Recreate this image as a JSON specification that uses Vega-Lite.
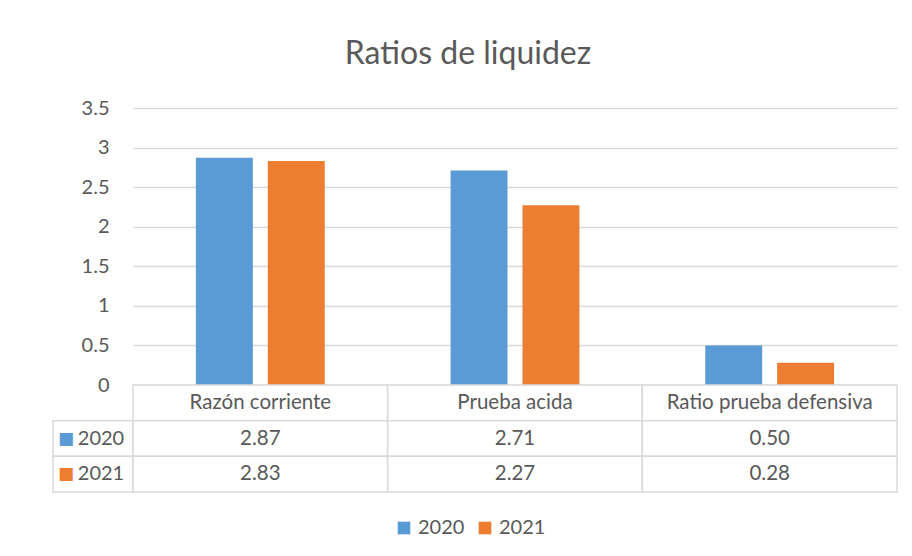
{
  "$schema": "https://vega.github.io/schema/vega-lite/v6.json",
  "padding": {"left": 52, "top": 38, "right": 10, "bottom": 10},
  "title": {"text": "Ratios de liquidez", "fontSize": 32, "font": "Lato", "fontWeight": "normal", "color": "#595959", "anchor": "middle", "offset": 27, "dx": -7},
  "datasets": {
    "ratios": [
      {"cat": "Razón corriente", "year": "2020", "value": 2.87},
      {"cat": "Razón corriente", "year": "2021", "value": 2.83},
      {"cat": "Prueba acida", "year": "2020", "value": 2.71},
      {"cat": "Prueba acida", "year": "2021", "value": 2.27},
      {"cat": "Ratio prueba defensiva", "year": "2020", "value": 0.50},
      {"cat": "Ratio prueba defensiva", "year": "2021", "value": 0.28}
    ]
  },
  "columns": 2,
  "spacing": 0,
  "bounds": "flush",
  "concat": [
    {
      "width": 80,
      "height": 277,
      "data": {"values": []},
      "mark": "text",
      "encoding": {}
    },
    {
      "width": 764,
      "height": 277,
      "data": {"name": "ratios"},
      "mark": {"type": "bar"},
      "encoding": {
        "x": {"field": "cat", "type": "nominal", "sort": ["Razón corriente", "Prueba acida", "Ratio prueba defensiva"], "scale": {"paddingInner": 0, "paddingOuter": 0}, "axis": null},
        "xOffset": {"field": "year", "type": "nominal", "scale": {"paddingInner": 0.2083, "paddingOuter": 0.875}},
        "y": {"field": "value", "type": "quantitative", "scale": {"domain": [0, 3.5]},
          "axis": {"values": [0, 0.5, 1, 1.5, 2, 2.5, 3, 3.5], "format": "~g", "domain": false, "ticks": false, "tickSize": 0, "labelPadding": 24, "grid": true, "gridColor": "#d9d9d9", "gridWidth": 1.3, "labelFontSize": 20, "labelColor": "#595959", "labelFont": "Lato", "title": null}},
        "color": {"field": "year", "type": "nominal", "scale": {"domain": ["2020", "2021"], "range": ["#5b9bd5", "#ed7d31"]},
          "legend": {"title": null, "orient": "none", "legendX": 341, "legendY": 410, "direction": "horizontal", "symbolType": "square", "symbolSize": 160, "symbolOpacity": 1, "symbolStrokeWidth": 0, "labelFontSize": 20, "labelFont": "Lato", "labelColor": "#595959", "labelOffset": 4, "columnPadding": 10}}
      }
    },
    {
      "width": 80,
      "height": 107,
      "data": {"name": "ratios"},
      "transform": [{"aggregate": [{"op": "count", "as": "n"}], "groupby": ["year"]}],
      "encoding": {
        "y": {"field": "year", "type": "nominal", "scale": {"domain": ["cat", "2020", "2021"], "paddingInner": 0, "paddingOuter": 0}, "axis": null}
      },
      "layer": [
        {"mark": {"type": "rect", "fill": "white", "stroke": "#d9d9d9", "strokeWidth": 1.5}},
        {"mark": {"type": "text", "text": "■", "dx": -27, "fontSize": 17, "font": "DejaVu Sans"},
          "encoding": {"color": {"field": "year", "type": "nominal", "scale": {"domain": ["2020", "2021"], "range": ["#5b9bd5", "#ed7d31"]}, "legend": null}}},
        {"mark": {"type": "text", "dx": 8, "fontSize": 20, "font": "Lato", "color": "#595959"},
          "encoding": {"text": {"field": "year"}}}
      ]
    },
    {
      "width": 764,
      "height": 107,
      "data": {"name": "ratios"},
      "encoding": {
        "x": {"field": "cat", "type": "nominal", "sort": ["Razón corriente", "Prueba acida", "Ratio prueba defensiva"], "scale": {"paddingInner": 0, "paddingOuter": 0}, "axis": null}
      },
      "layer": [
        {
          "transform": [{"aggregate": [{"op": "count", "as": "n"}], "groupby": ["cat"]}],
          "mark": {"type": "rect", "fill": "white", "stroke": "#d9d9d9", "strokeWidth": 1.5},
          "encoding": {"y": {"datum": "cat", "type": "nominal", "scale": {"domain": ["cat", "2020", "2021"], "paddingInner": 0, "paddingOuter": 0}, "axis": null}}
        },
        {
          "transform": [{"aggregate": [{"op": "count", "as": "n"}], "groupby": ["cat"]}],
          "mark": {"type": "text", "fontSize": 20.5, "font": "Lato", "color": "#595959"},
          "encoding": {"y": {"datum": "cat", "type": "nominal"}, "text": {"field": "cat"}}
        },
        {
          "mark": {"type": "rect", "fill": "white", "stroke": "#d9d9d9", "strokeWidth": 1.5},
          "encoding": {"y": {"field": "year", "type": "nominal"}}
        },
        {
          "mark": {"type": "text", "fontSize": 20.5, "font": "Lato", "color": "#595959"},
          "encoding": {"y": {"field": "year", "type": "nominal"}, "text": {"field": "value", "type": "quantitative", "format": ".2f"}}
        }
      ]
    }
  ],
  "config": {"view": {"stroke": null}, "font": "Lato", "background": "white"}
}
